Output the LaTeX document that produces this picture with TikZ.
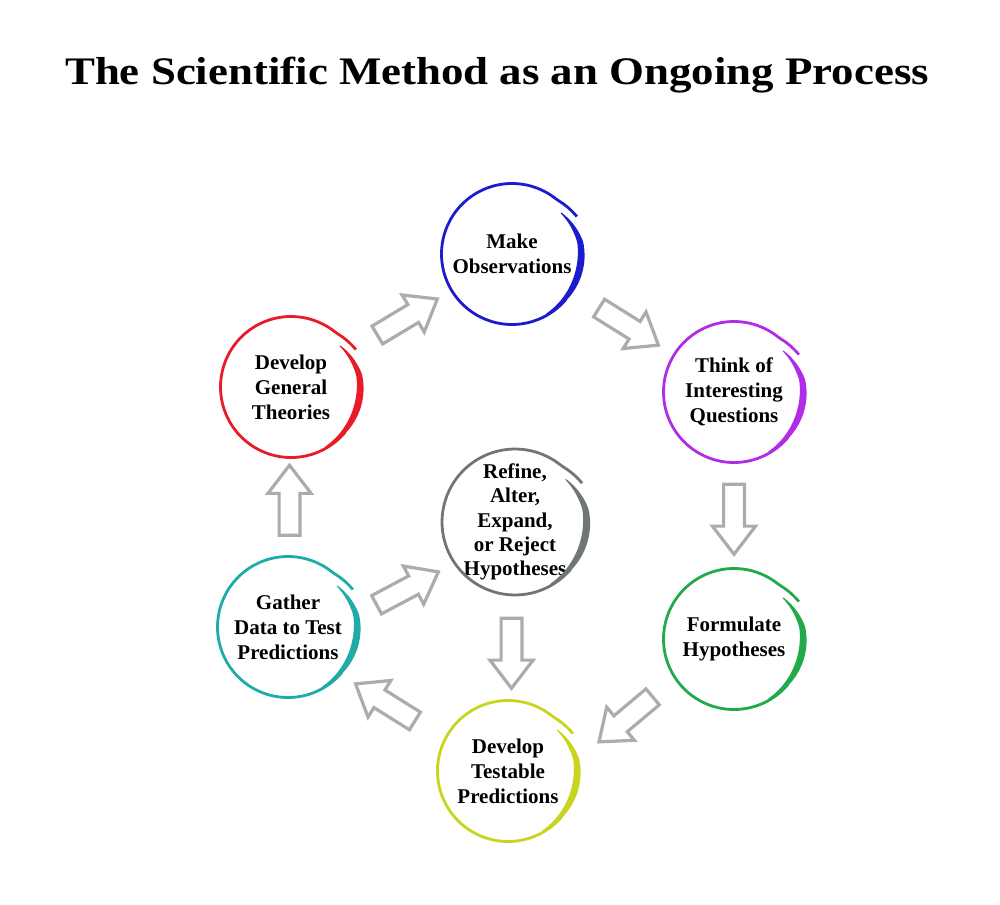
\documentclass[tikz,border=0pt]{standalone}
\usepackage{fontspec}
\setmainfont{Liberation Serif}
\usepackage{tikz}
\usetikzlibrary{calc, shapes.arrows}

\definecolor{obsblue}{RGB}{28,28,204}
\definecolor{quespurple}{RGB}{178,43,230}
\definecolor{hypogreen}{RGB}{34,170,74}
\definecolor{predyellow}{RGB}{200,212,30}
\definecolor{gatherteal}{RGB}{32,170,168}
\definecolor{theoryred}{RGB}{232,28,40}
\definecolor{refinegray}{RGB}{112,118,118}
\definecolor{arrowgray}{RGB}{172,172,172}

\begin{document}
\begin{tikzpicture}[
        x=0.5pt, y=-0.5pt,
        declare function={rc(\t)=34.6-2.6*max(0,(\t-10)/30); bw(\t)=0.5+3.0*sin((40-\t)/100*180);},
        stepcircle/.style={circle, minimum size=70.5pt, inner sep=0pt, align=center, font=\bfseries\fontsize{10.5}{12.5}\selectfont},
        blockarrow/.style={single arrow, draw=arrowgray, fill=white, line width=1.6pt, minimum height=35pt, inner xsep=0pt, inner ysep=4.4pt, single arrow head extend=5.6pt, single arrow tip angle=75},
        titletext/.style={font=\bfseries\fontsize{19.5}{22}\selectfont}
    ]
        \useasboundingbox (0,0) rectangle (1000,904);
        \node[titletext] (title) at (497,75) {\scalebox{1.15}[1]{The Scientific Method as an Ongoing Process}};

        \node[stepcircle] (observe) at (512,254) {Make\\Observations};
        \node[stepcircle] (questions) at (734,392) {Think of\\Interesting\\Questions};
        \node[stepcircle] (hypo) at (734,639) {Formulate\\Hypotheses};
        \node[stepcircle] (predict) at (508,771) {Develop\\Testable\\Predictions};
        \node[stepcircle] (gather) at (288,627) {Gather\\Data to Test\\Predictions};
        \node[stepcircle] (theories) at (291,387) {Develop\\General\\Theories};
        \node[stepcircle, minimum size=73pt, font=\bfseries\fontsize{10.5}{12.1}\selectfont] (refine) at (515,522) {Refine,\\Alter,\\Expand,\\or Reject\\Hypotheses};

        % brush rings
        \foreach \n/\col/\rad in {observe/obsblue/1, questions/quespurple/1, hypo/hypogreen/1, predict/predyellow/1, gather/gatherteal/1, theories/theoryred/1, refine/refinegray/1.035} {
            \begin{scope}[shift={(\n.center)}, x=1pt, y=1pt, scale=\rad]
                \draw[\col, line width=1.4pt] plot[smooth, domain=320:30, samples=80] (\x:{35.25+2.2*max(0,(50-\x)/20)});
                \fill[\col] plot[smooth, domain=40:-60, samples=40] (\x:{rc(\x)+bw(\x)/2}) -- plot[smooth, domain=-60:40, samples=40] (\x:{rc(\x)-bw(\x)/2}) -- cycle;
            \end{scope}
        }

        \node[blockarrow, rotate=31] (a1) at ($(theories)!0.5!(observe)$) {};
        \node[blockarrow, rotate=-32] (a2) at ($(observe)!0.5!(questions)$) {};
        \node[blockarrow, rotate=-90] (a3) at ($(questions)!0.5!(hypo)+(0,-3)$) {};
        \node[blockarrow, rotate=-140] (a4) at ($(hypo)!0.5!(predict)+(10,10)$) {};
        \node[blockarrow, rotate=148] (a5) at ($(predict)!0.5!(gather)+(-7,7)$) {};
        \node[blockarrow, rotate=90] (a6) at ($(gather)!0.5!(theories)$) {};
        \node[blockarrow, rotate=28] (a7) at ($(gather)!0.5!(refine)+(0,17)$) {};
        \node[blockarrow, rotate=-90] (a8) at ($(refine)!0.5!(predict)$) {};
    \end{tikzpicture}
\end{document}
